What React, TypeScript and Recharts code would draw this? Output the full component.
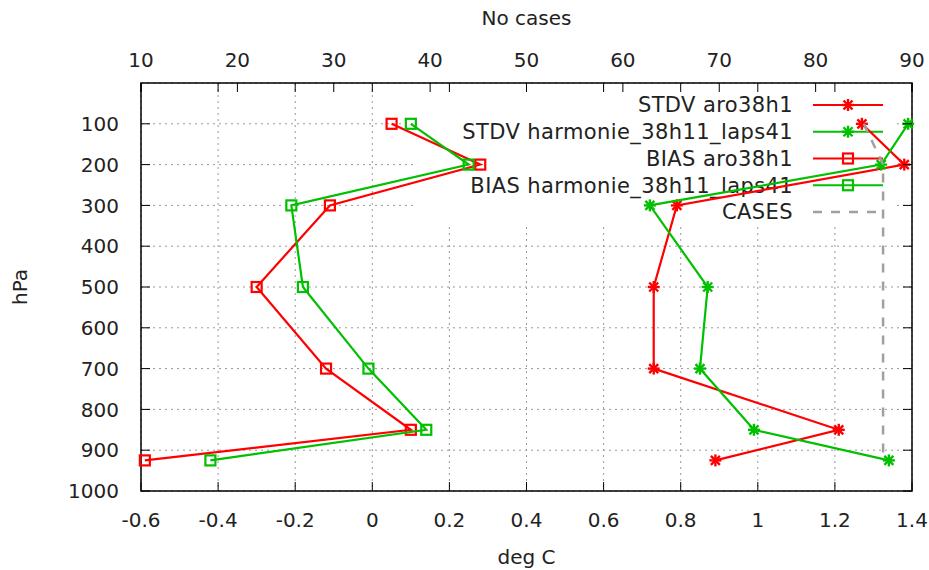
import { ScatterChart, Scatter, XAxis, YAxis, CartesianGrid } from 'recharts';

const W = 929;
const H = 570;
// plot frame (px) that falls out of the margins and axis sizes below
const PLOT = { left: 141, top: 83, right: 912, bottom: 491 };

const FONT = '"DejaVu Sans", sans-serif';
const INK = '#222';
const RED = '#ff0000';
const GREEN = '#00c000';
const GREY = '#a0a0a0';

// pressure levels (hPa)
const LEVELS = [100, 200, 300, 500, 700, 850, 925];

// deg C per level
const STDV_ARO = [1.27, 1.38, 0.79, 0.73, 0.73, 1.21, 0.89];
const STDV_HARM = [1.39, 1.32, 0.72, 0.87, 0.85, 0.99, 1.34];
const BIAS_ARO = [0.05, 0.28, -0.11, -0.3, -0.12, 0.1, -0.59];
const BIAS_HARM = [0.1, 0.25, -0.21, -0.18, -0.01, 0.14, -0.42];
// number of cases per level (top axis)
const CASES = [85, 87, 87, 87, 87, 87, 87];

const DEG_TICKS = [-0.6, -0.4, -0.2, 0, 0.2, 0.4, 0.6, 0.8, 1, 1.2, 1.4];
const CASE_TICKS = [10, 20, 30, 40, 50, 60, 70, 80, 90];
const HPA_TICKS = [100, 200, 300, 400, 500, 600, 700, 800, 900, 1000];

const rows = (vals: number[], key: string) =>
    LEVELS.map((p, i) => ({ p, [key]: vals[i] }));

const TICK_LEN = 9;

function Star({ cx, cy, color }: { cx: number; cy: number; color: string }) {
    const r = 6;
    const d = 4.5;
    return (
        <g stroke={color} strokeWidth={2.4}>
            <line x1={cx - r} y1={cy} x2={cx + r} y2={cy} />
            <line x1={cx} y1={cy - r} x2={cx} y2={cy + r} />
            <line x1={cx - d} y1={cy - d} x2={cx + d} y2={cy + d} />
            <line x1={cx - d} y1={cy + d} x2={cx + d} y2={cy - d} />
        </g>
    );
}

function Square({ cx, cy, color }: { cx: number; cy: number; color: string }) {
    return (
        <rect x={cx - 5} y={cy - 5} width={10} height={10} fill="none" stroke={color} strokeWidth={2.2} />
    );
}

const starShape = (color: string) => (props: any) => <Star cx={props.cx} cy={props.cy} color={color} />;
const squareShape = (color: string) => (props: any) => <Square cx={props.cx} cy={props.cy} color={color} />;

// bottom ticks: label below, tick marks pointing inward from bottom and top border
function DegTick(props: any) {
    const { x, y, payload } = props;
    return (
        <g>
            <line x1={x} x2={x} y1={PLOT.bottom} y2={PLOT.bottom - TICK_LEN} stroke="#000" />
            <line x1={x} x2={x} y1={PLOT.top} y2={PLOT.top + TICK_LEN} stroke="#000" />
            <text x={x} y={y} dy="0.71em" textAnchor="middle" fontSize={20} fontFamily={FONT} fill={INK}>
                {String(payload.value)}
            </text>
        </g>
    );
}

function CaseTick(props: any) {
    const { x, y, payload } = props;
    return (
        <g>
            <line x1={x} x2={x} y1={PLOT.top} y2={PLOT.top + TICK_LEN} stroke="#000" />
            <text x={x} y={y} textAnchor="middle" fontSize={20} fontFamily={FONT} fill={INK}>
                {String(payload.value)}
            </text>
        </g>
    );
}

// left ticks, mirrored on the right border
function HpaTick(props: any) {
    const { x, y, payload } = props;
    return (
        <g>
            <line x1={PLOT.left} x2={PLOT.left + TICK_LEN} y1={y} y2={y} stroke="#000" />
            <line x1={PLOT.right} x2={PLOT.right - TICK_LEN} y1={y} y2={y} stroke="#000" />
            <text x={x} y={y} dy="0.355em" textAnchor="end" fontSize={20} fontFamily={FONT} fill={INK}>
                {String(payload.value)}
            </text>
        </g>
    );
}

const KEY = [
    { name: 'STDV aro38h1', color: RED, mark: 'star' },
    { name: 'STDV harmonie_38h11_laps41', color: GREEN, mark: 'star' },
    { name: 'BIAS aro38h1', color: RED, mark: 'square' },
    { name: 'BIAS harmonie_38h11_laps41', color: GREEN, mark: 'square' },
    { name: 'CASES', color: GREY, mark: 'none' },
];

// opaque key in the top right corner, drawn under the curves
function KeyBox() {
    const textRight = 793;
    const x0 = 813;
    const x1 = 883;
    return (
        <g>
            <rect x={413} y={PLOT.top + 1} width={482} height={143} fill="#fff" />
            {KEY.map((k, i) => {
                const y = 105 + i * 26.75;
                return (
                    <g key={k.name}>
                        <text
                            x={textRight}
                            y={y}
                            dy="0.355em"
                            textAnchor="end"
                            fontSize={21}
                            letterSpacing={0.4}
                            fontFamily={FONT}
                            fill={INK}
                        >
                            {k.name}
                        </text>
                        <line
                            x1={x0}
                            x2={x1}
                            y1={y}
                            y2={y}
                            stroke={k.color}
                            strokeWidth={k.mark === 'none' ? 2.5 : 2.2}
                            strokeDasharray={k.mark === 'none' ? '9 9' : undefined}
                        />
                        {k.mark === 'star' && <Star cx={(x0 + x1) / 2} cy={y} color={k.color} />}
                        {k.mark === 'square' && <Square cx={(x0 + x1) / 2} cy={y} color={k.color} />}
                    </g>
                );
            })}
        </g>
    );
}

const axisLabel = { fontSize: 20, fill: INK, fontFamily: FONT };

export default function App() {
    return (
        <div style={{ position: 'absolute', left: 0, top: 0, background: '#fff' }}>
            <ScatterChart width={W} height={H} margin={{ top: 0, right: W - PLOT.right, bottom: 0, left: 0 }}>
                <CartesianGrid
                    xAxisId="deg"
                    yAxisId="hpa"
                    stroke="#999"
                    strokeDasharray="2 4"
                />
                <XAxis
                    xAxisId="deg"
                    type="number"
                    dataKey="v"
                    domain={[-0.6, 1.4]}
                    ticks={DEG_TICKS}
                    height={H - PLOT.bottom}
                    tickSize={0}
                    tickMargin={22}
                    axisLine={false}
                    tick={(p: any) => <DegTick {...p} />}
                    label={{ value: 'deg C', position: 'insideBottom', offset: 6, ...axisLabel }}
                />
                <XAxis
                    xAxisId="cases"
                    orientation="top"
                    type="number"
                    dataKey="n"
                    domain={[10, 90]}
                    ticks={CASE_TICKS}
                    height={PLOT.top}
                    tickSize={0}
                    tickMargin={16}
                    axisLine={false}
                    tick={(p: any) => <CaseTick {...p} />}
                    label={{ value: 'No cases', position: 'insideTop', offset: 11, ...axisLabel }}
                />
                <YAxis
                    yAxisId="hpa"
                    type="number"
                    dataKey="p"
                    domain={[0, 1000]}
                    reversed
                    ticks={HPA_TICKS}
                    width={PLOT.left}
                    tickSize={0}
                    tickMargin={22}
                    axisLine={false}
                    tick={(p: any) => <HpaTick {...p} />}
                    label={{
                        value: 'hPa',
                        angle: -90,
                        position: 'insideLeft',
                        offset: 20,
                        style: { textAnchor: 'middle' },
                        ...axisLabel,
                    }}
                />
                <KeyBox />
                <rect
                    x={PLOT.left}
                    y={PLOT.top}
                    width={PLOT.right - PLOT.left}
                    height={PLOT.bottom - PLOT.top}
                    fill="none"
                    stroke="#000"
                    strokeWidth={1.5}
                />
                <Scatter
                    data={rows(STDV_ARO, 'v')}
                    xAxisId="deg"
                    yAxisId="hpa"
                    line={{ stroke: RED, strokeWidth: 2.2 }}
                    shape={starShape(RED)}
                    isAnimationActive={false}
                />
                <Scatter
                    data={rows(STDV_HARM, 'v')}
                    xAxisId="deg"
                    yAxisId="hpa"
                    line={{ stroke: GREEN, strokeWidth: 2.2 }}
                    shape={starShape(GREEN)}
                    isAnimationActive={false}
                />
                <Scatter
                    data={rows(BIAS_ARO, 'v')}
                    xAxisId="deg"
                    yAxisId="hpa"
                    line={{ stroke: RED, strokeWidth: 2.2 }}
                    shape={squareShape(RED)}
                    isAnimationActive={false}
                />
                <Scatter
                    data={rows(BIAS_HARM, 'v')}
                    xAxisId="deg"
                    yAxisId="hpa"
                    line={{ stroke: GREEN, strokeWidth: 2.2 }}
                    shape={squareShape(GREEN)}
                    isAnimationActive={false}
                />
                <Scatter
                    data={rows(CASES, 'n')}
                    xAxisId="cases"
                    yAxisId="hpa"
                    line={{ stroke: GREY, strokeWidth: 2.5, strokeDasharray: '9 9' }}
                    shape={() => <g />}
                    isAnimationActive={false}
                />
            </ScatterChart>
        </div>
    );
}
